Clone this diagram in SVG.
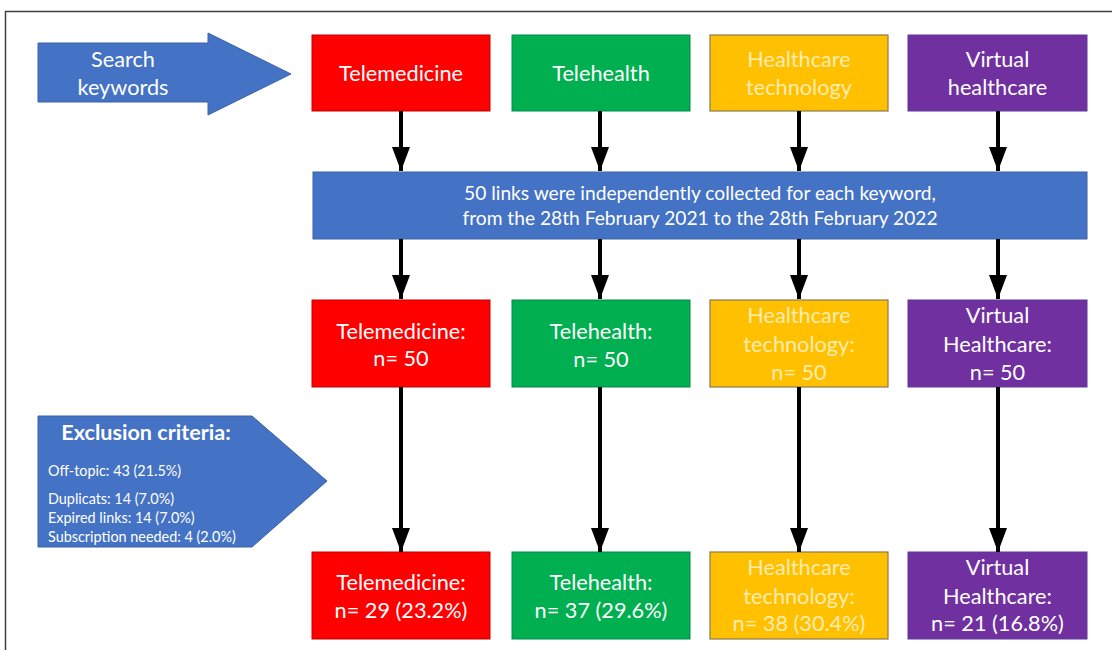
<svg xmlns="http://www.w3.org/2000/svg" width="1112" height="650" viewBox="0 0 1112 650">
<defs>
<style>
.t{font-family:Lato,"Open Sans","Liberation Sans",sans-serif;fill:#fff;text-anchor:middle;font-size:21.7px}
.ty{fill:#FFECB0}
.band{font-size:19.2px}
.ex{font-family:Lato,"Open Sans","Liberation Sans",sans-serif;fill:#fff;font-size:14.4px}
.exh{font-family:Lato,"Open Sans","Liberation Sans",sans-serif;fill:#fff;font-size:21.6px;font-weight:bold;text-anchor:middle}
.red{fill:#FF0000;stroke:#C00000;stroke-width:1}
.green{fill:#00B050;stroke:#00894A;stroke-width:1}
.yellow{fill:#FFC000;stroke:#8C7A50;stroke-width:1.2}
.purple{fill:#7030A0;stroke:#5A3A9A;stroke-width:1}
.blue{fill:#4472C4;stroke:#3A62A8;stroke-width:1}
.conn{stroke:#000;stroke-width:4;fill:none}
</style>
<marker id="ah" viewBox="0 0 12 9" refX="12" refY="4.5" markerWidth="6" markerHeight="4.5" markerUnits="strokeWidth" orient="auto">
<path d="M0,0 L12,4.5 L0,9 Z" fill="#000"/>
</marker>
</defs>
<rect x="0" y="0" width="1112" height="650" fill="#fff"/>
<rect x="5.5" y="11.5" width="1120" height="660" fill="none" stroke="#404040" stroke-width="1.5"/>

<g id="search-keywords">
<path class="blue" d="M38,43 H208 V33 L291,74 L208,115 V102 H38 Z"/>
<text class="t" x="123" y="67">Search</text>
<text class="t" x="123" y="95">keywords</text>
</g>

<g id="exclusion-criteria">
<path class="blue" d="M38,416 H252 L327,481 L252,547 H38 Z"/>
<text class="exh" x="146" y="440">Exclusion criteria:</text>
<text class="ex" x="48" y="476">Off-topic: 43 (21.5%)</text>
<text class="ex" x="48" y="504">Duplicats: 14 (7.0%)</text>
<text class="ex" x="48" y="523">Expired links: 14 (7.0%)</text>
<text class="ex" x="48" y="542">Subscription needed: 4 (2.0%)</text>
</g>

<g id="kw-telemedicine">
<rect class="red" x="312" y="35" width="178" height="76"/>
<text class="t" x="401" y="81">Telemedicine</text>
</g>
<g id="kw-telehealth">
<rect class="green" x="512" y="35" width="178" height="76"/>
<text class="t" x="601" y="81">Telehealth</text>
</g>
<g id="kw-healthcare-technology">
<rect class="yellow" x="710" y="35" width="178" height="76"/>
<text class="t ty" x="799" y="67">Healthcare</text>
<text class="t ty" x="799" y="95">technology</text>
</g>
<g id="kw-virtual-healthcare">
<rect class="purple" x="908" y="35" width="179" height="76"/>
<text class="t" x="997.5" y="67">Virtual</text>
<text class="t" x="997.5" y="95">healthcare</text>
</g>

<g id="collection">
<rect class="blue" x="313" y="172" width="774" height="67"/>
<text class="t band" x="700" y="200">50 links were independently collected for each keyword,</text>
<text class="t band" x="700" y="225">from the 28th February 2021 to the 28th February 2022</text>
</g>

<g id="n-telemedicine">
<rect class="red" x="312" y="300" width="178" height="87"/>
<text class="t" x="401" y="339">Telemedicine:</text>
<text class="t" x="401" y="366">n= 50</text>
</g>
<g id="n-telehealth">
<rect class="green" x="512" y="300" width="178" height="87"/>
<text class="t" x="601" y="339">Telehealth:</text>
<text class="t" x="601" y="367">n= 50</text>
</g>
<g id="n-healthcare-technology">
<rect class="yellow" x="710" y="300" width="178" height="87"/>
<text class="t ty" x="799" y="323">Healthcare</text>
<text class="t ty" x="799" y="352">technology:</text>
<text class="t ty" x="799" y="380">n= 50</text>
</g>
<g id="n-virtual-healthcare">
<rect class="purple" x="908" y="300" width="179" height="87"/>
<text class="t" x="997.5" y="323">Virtual</text>
<text class="t" x="997.5" y="352">Healthcare:</text>
<text class="t" x="997.5" y="380">n= 50</text>
</g>

<g id="f-telemedicine">
<rect class="red" x="312" y="552" width="178" height="87"/>
<text class="t" x="401" y="590">Telemedicine:</text>
<text class="t" x="401" y="618">n= 29 (23.2%)</text>
</g>
<g id="f-telehealth">
<rect class="green" x="512" y="552" width="178" height="87"/>
<text class="t" x="601" y="590">Telehealth:</text>
<text class="t" x="601" y="618">n= 37 (29.6%)</text>
</g>
<g id="f-healthcare-technology">
<rect class="yellow" x="710" y="552" width="178" height="87"/>
<text class="t ty" x="799" y="575">Healthcare</text>
<text class="t ty" x="799" y="604">technology:</text>
<text class="t ty" x="799" y="631">n= 38 (30.4%)</text>
</g>
<g id="f-virtual-healthcare">
<rect class="purple" x="908" y="552" width="179" height="87"/>
<text class="t" x="997.5" y="575">Virtual</text>
<text class="t" x="997.5" y="604">Healthcare:</text>
<text class="t" x="997.5" y="631">n= 21 (16.8%)</text>
</g>

<g id="connectors">
<line class="conn" x1="401" y1="111" x2="401" y2="171" marker-end="url(#ah)"/>
<line class="conn" x1="600" y1="111" x2="600" y2="171" marker-end="url(#ah)"/>
<line class="conn" x1="799" y1="111" x2="799" y2="171" marker-end="url(#ah)"/>
<line class="conn" x1="998" y1="111" x2="998" y2="171" marker-end="url(#ah)"/>
<line class="conn" x1="401" y1="239" x2="401" y2="299" marker-end="url(#ah)"/>
<line class="conn" x1="600" y1="239" x2="600" y2="299" marker-end="url(#ah)"/>
<line class="conn" x1="799" y1="239" x2="799" y2="299" marker-end="url(#ah)"/>
<line class="conn" x1="998" y1="239" x2="998" y2="299" marker-end="url(#ah)"/>
<line class="conn" x1="401" y1="387" x2="401" y2="552" marker-end="url(#ah)"/>
<line class="conn" x1="600" y1="387" x2="600" y2="552" marker-end="url(#ah)"/>
<line class="conn" x1="799" y1="387" x2="799" y2="552" marker-end="url(#ah)"/>
<line class="conn" x1="998" y1="387" x2="998" y2="552" marker-end="url(#ah)"/>
</g>
</svg>
